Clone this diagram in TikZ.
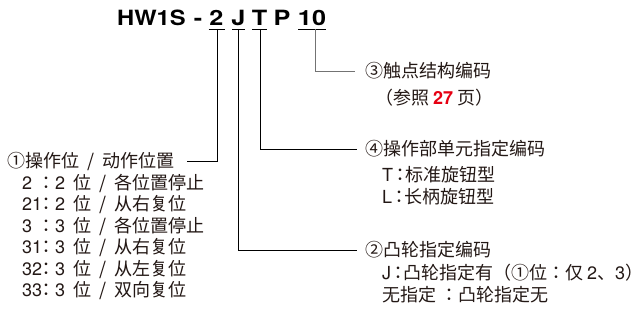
\documentclass[tikz,border=0pt]{standalone}
\usepackage{fontspec}
\setmainfont{Noto Sans CJK JP}
\newfontfamily\lat{TeX Gyre Heros}
\definecolor{txt}{HTML}{231815}
\definecolor{redn}{HTML}{E60012}
\newcommand{\hc}{{\addfontfeature{RawFeature=+halt}：}}
\newcommand{\ws}{\hspace{0.45em}}
\newcommand{\tw}[1]{\scalebox{1.2}[1]{#1}}
\begin{document}
\begin{tikzpicture}[x=1pt,y=-1pt,
  lbl/.style={anchor=west,inner sep=0pt,text=txt,font=\fontsize{18}{21}\selectfont,text height=15pt,text depth=2.5pt},
  ttl/.style={anchor=base,inner sep=0pt,text=black,font=\lat\bfseries\fontsize{21}{24}\selectfont},
  conn/.style={line width=0.8pt,black},
  connG/.style={line width=0.8pt,black!55}]
\useasboundingbox (0,0) rectangle (642,323);
% title
\node[ttl,anchor=base west] (hw) at (117,25.5) {\scalebox{1.13}[1]{HW1S}};
\node[ttl] (dash) at (198,25.5) {\tw{-}};
\node[ttl] (d2) at (216.5,25.5) {\tw{2}};
\node[ttl] (dJ) at (238.5,25.5) {\tw{J}};
\node[ttl] (dT) at (259.5,25.5) {\tw{T}};
\node[ttl] (dP) at (282,25.5) {\tw{P}};
\node[ttl] (d10) at (312,25.5) {\tw{10}};
\draw[conn] (208.5,29) -- (224.5,29);
\draw[conn] (232,29) -- (245,29);
\draw[conn] (252,29) -- (267,29);
\draw[conn] (298,29) -- (326,29);
\coordinate (u2) at (217,29);
\coordinate (uJ) at (238.5,29);
\coordinate (uT) at (260,29);
\coordinate (u10) at (315,29);
% left block
\node[lbl] (l1) at (7,161) {①操作位\ws{}/\ws{}动作位置};
\node[lbl] (c1) at (22,183) {\lat 2};
\node[lbl] (r1) at (37,183) {：{\lat 2}\ws{}位\ws{}/\ws{}各位置停止};
\node[lbl] (c2) at (22,204.5) {\lat 21};
\node[lbl] (r2) at (37,204.5) {：{\lat 2}\ws{}位\ws{}/\ws{}从右复位};
\node[lbl] (c3) at (22,226) {\lat 3};
\node[lbl] (r3) at (37,226) {：{\lat 3}\ws{}位\ws{}/\ws{}各位置停止};
\node[lbl] (c4) at (22,247.5) {\lat 31};
\node[lbl] (r4) at (37,247.5) {：{\lat 3}\ws{}位\ws{}/\ws{}从右复位};
\node[lbl] (c5) at (22,269) {\lat 32};
\node[lbl] (r5) at (37,269) {：{\lat 3}\ws{}位\ws{}/\ws{}从左复位};
\node[lbl] (c6) at (22,290.5) {\lat 33};
\node[lbl] (r6) at (37,290.5) {：{\lat 3}\ws{}位\ws{}/\ws{}双向复位};
% right blocks
\node[lbl] (l3) at (365,71) {③触点结构编码};
\node[lbl] (l3b) at (375,98) {（参照 {\lat\bfseries\color{redn}27} 页）};
\node[lbl] (l4) at (365,149) {④操作部单元指定编码};
\node[lbl] (l4a) at (382,175) {{\lat T}\,\hc{}标准旋钮型};
\node[lbl] (l4b) at (382,197) {{\lat L}\,\hc{}长柄旋钮型};
\node[lbl] (l2) at (365,250) {②凸轮指定编码};
\node[lbl] (l2a) at (382,273) {{\lat J}\,\hc{}凸轮指定有（①位：仅 {\lat 2}、{\lat 3}）};
\node[lbl] (l2b) at (382,295) {无指定 ：凸轮指定无};
% connectors
\draw[conn] (u2) |- ([xshift=12pt]l1.east);
\draw[conn] (uJ) |- ([xshift=-8pt]l2.west);
\draw[conn] (uT) |- ([xshift=-8pt]l4.west);
\draw[connG] (u10) |- ([xshift=-10pt]l3.west);
\end{tikzpicture}
\end{document}
